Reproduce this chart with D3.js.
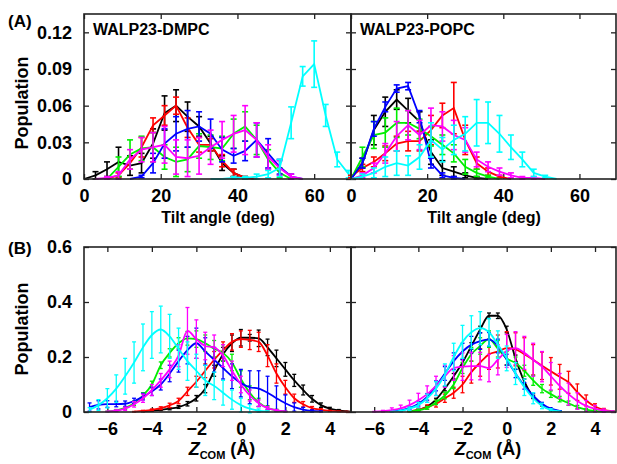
<!DOCTYPE html>
<html>
<head>
<meta charset="utf-8">
<script src="https://cdn.jsdelivr.net/npm/d3@7"></script>
<style>
  body { margin: 0; background: #fff; }
  svg text { font-family: 'Liberation Sans', Arial, sans-serif; font-weight: bold; fill: #000; }
</style>
</head>
<body>
<div id="main"></div>
<script>
// bins
const tiltBins = [0, 3, 6, 9, 12, 15, 18, 21, 24, 27, 30, 33, 36, 39, 42, 45, 48, 51, 54, 57, 60, 63, 66, 69];
const zBins = [-6.8, -6.4, -6.0, -5.6, -5.2, -4.8, -4.4, -4.0, -3.6, -3.2, -2.8, -2.4, -2.0, -1.6, -1.2,
               -0.8, -0.4, 0.0, 0.4, 0.8, 1.2, 1.6, 2.0, 2.4, 2.8, 3.2, 3.6, 4.0, 4.4, 4.8];

const colors = { black: '#000000', red: '#ff0000', green: '#00ee00', blue: '#0000ff', magenta: '#ff00ff', cyan: '#00ffff' };
const seriesOrder = ['black', 'red', 'green', 'blue', 'magenta', 'cyan'];

const tiltTicks = [0, 20, 40, 60];
const tiltPopTicks = [0, 0.03, 0.06, 0.09, 0.12];
const zTicks = [-6, -4, -2, 0, 2, 4];
const zPopTicks = [0, 0.2, 0.4, 0.6];

// from = index of first bin, y = population, e = error bar half height
const tiltDMPC = {
  black:   { from: 0, y: [0, 0.003, 0.008, 0.014, 0.011, 0.013, 0.029, 0.054, 0.060, 0.051, 0.043, 0.029, 0.013, 0.005, 0.001, 0],
                      e: [0, 0.003, 0.006, 0.012, 0.008, 0.008, 0.012, 0.014, 0.013, 0.012, 0.008, 0.006, 0.006, 0.003, 0.001, 0] },
  red:     { from: 2, y: [0, 0.003, 0.013, 0.026, 0.044, 0.052, 0.060, 0.042, 0.028, 0.028, 0.015, 0.005, 0.001, 0],
                      e: [0, 0.002, 0.005, 0.008, 0.006, 0.008, 0.007, 0.008, 0.006, 0.005, 0.005, 0.003, 0.001, 0] },
  green:   { from: 2, y: [0, 0.010, 0.020, 0.025, 0.026, 0.018, 0.014, 0.016, 0.027, 0.026, 0.025, 0.037, 0.043, 0.032, 0.016, 0.005, 0],
                      e: [0, 0.008, 0.012, 0.010, 0.012, 0.010, 0.012, 0.010, 0.010, 0.010, 0.010, 0.012, 0.012, 0.012, 0.008, 0.004, 0] },
  blue:    { from: 4, y: [0, 0.002, 0.013, 0.029, 0.037, 0.041, 0.043, 0.037, 0.024, 0.019, 0.023, 0.032, 0.021, 0.010, 0.002, 0],
                      e: [0, 0.001, 0.008, 0.012, 0.014, 0.015, 0.012, 0.012, 0.010, 0.006, 0.008, 0.014, 0.012, 0.006, 0.002, 0] },
  magenta: { from: 1, y: [0, 0.001, 0.003, 0.016, 0.024, 0.026, 0.028, 0.018, 0.017, 0.019, 0.026, 0.032, 0.037, 0.040, 0.032, 0.018, 0.009, 0.002, 0],
                      e: [0, 0.001, 0.003, 0.008, 0.010, 0.012, 0.015, 0.014, 0.015, 0.015, 0.014, 0.015, 0.015, 0.020, 0.014, 0.010, 0.006, 0.002, 0] },
  cyan:    { from: 11, y: [0, 0, 0.001, 0.001, 0.002, 0.004, 0.009, 0.046, 0.084, 0.094, 0.052, 0.016, 0.004],
                       e: [0, 0, 0.001, 0.001, 0.002, 0.003, 0.007, 0.013, 0.008, 0.019, 0.009, 0.006, 0.003] }
};

const tiltPOPC = {
  black:   { from: 0, y: [0, 0.013, 0.040, 0.055, 0.065, 0.056, 0.047, 0.022, 0.009, 0.006, 0.003, 0.001, 0],
                      e: [0, 0.004, 0.012, 0.012, 0.008, 0.010, 0.008, 0.010, 0.006, 0.004, 0.002, 0.001, 0] },
  red:     { from: 0, y: [0.002, 0.009, 0.014, 0.021, 0.029, 0.031, 0.031, 0.040, 0.052, 0.058, 0.032, 0.013, 0.006, 0.002, 0],
                      e: [0.001, 0.003, 0.004, 0.006, 0.006, 0.008, 0.008, 0.012, 0.010, 0.021, 0.012, 0.005, 0.003, 0.001, 0] },
  green:   { from: 0, y: [0, 0.018, 0.036, 0.038, 0.046, 0.046, 0.041, 0.035, 0.028, 0.021, 0.010, 0.005, 0.002, 0],
                      e: [0, 0.008, 0.011, 0.012, 0.012, 0.010, 0.008, 0.008, 0.008, 0.007, 0.006, 0.003, 0.001, 0] },
  blue:    { from: 0, y: [0, 0.013, 0.041, 0.059, 0.074, 0.076, 0.051, 0.013, 0.003, 0.001, 0],
                      e: [0, 0.004, 0.006, 0.004, 0.003, 0.003, 0.005, 0.004, 0.002, 0.001, 0] },
  magenta: { from: 0, y: [0, 0.003, 0.009, 0.021, 0.035, 0.044, 0.036, 0.044, 0.043, 0.036, 0.032, 0.016, 0.010, 0.006, 0.003, 0.001, 0.001, 0],
                      e: [0, 0.002, 0.004, 0.008, 0.012, 0.012, 0.012, 0.014, 0.012, 0.012, 0.010, 0.006, 0.004, 0.003, 0.002, 0.001, 0.001, 0] },
  cyan:    { from: 0, y: [0, 0.002, 0.005, 0.010, 0.013, 0.011, 0.018, 0.032, 0.024, 0.032, 0.037, 0.046, 0.046, 0.037, 0.026, 0.016, 0.005, 0.002, 0],
                      e: [0, 0.002, 0.004, 0.008, 0.010, 0.008, 0.010, 0.014, 0.010, 0.012, 0.014, 0.019, 0.017, 0.015, 0.010, 0.006, 0.003, 0.001, 0] }
};

const zDMPC = {
  black:   { from: 6, y: [0.002, 0.005, 0.008, 0.012, 0.018, 0.030, 0.050, 0.085, 0.150, 0.210, 0.250, 0.270, 0.270, 0.268, 0.235, 0.195, 0.155, 0.115, 0.080, 0.048, 0.025, 0.012, 0.006, 0.002],
                      e: [0.001, 0.002, 0.003, 0.004, 0.005, 0.008, 0.010, 0.015, 0.020, 0.025, 0.030, 0.030, 0.012, 0.030, 0.030, 0.030, 0.025, 0.022, 0.018, 0.012, 0.008, 0.005, 0.003, 0.001] },
  red:     { from: 5, y: [0.001, 0.004, 0.008, 0.014, 0.024, 0.040, 0.075, 0.110, 0.150, 0.190, 0.225, 0.255, 0.265, 0.262, 0.255, 0.205, 0.140, 0.090, 0.050, 0.028, 0.014, 0.008, 0.004, 0.002, 0.001],
                      e: [0.001, 0.002, 0.003, 0.005, 0.008, 0.010, 0.015, 0.020, 0.025, 0.030, 0.030, 0.030, 0.030, 0.035, 0.035, 0.040, 0.035, 0.025, 0.015, 0.010, 0.006, 0.004, 0.002, 0.001, 0.001] },
  green:   { from: 2, y: [0.002, 0.006, 0.015, 0.032, 0.060, 0.100, 0.170, 0.215, 0.250, 0.268, 0.265, 0.250, 0.230, 0.215, 0.180, 0.120, 0.070, 0.035, 0.015, 0.006, 0.002],
                      e: [0.001, 0.003, 0.005, 0.008, 0.010, 0.012, 0.012, 0.015, 0.020, 0.025, 0.030, 0.030, 0.030, 0.030, 0.030, 0.030, 0.025, 0.015, 0.008, 0.004, 0.001] },
  blue:    { from: 0, y: [0.018, 0.026, 0.029, 0.029, 0.030, 0.040, 0.056, 0.075, 0.100, 0.140, 0.185, 0.225, 0.250, 0.220, 0.190, 0.160, 0.130, 0.105, 0.090, 0.085, 0.070, 0.050, 0.032, 0.018, 0.009, 0.004, 0.002],
                      e: [0.015, 0.015, 0.012, 0.010, 0.010, 0.010, 0.012, 0.015, 0.020, 0.030, 0.040, 0.050, 0.055, 0.050, 0.045, 0.040, 0.045, 0.050, 0.060, 0.065, 0.060, 0.045, 0.030, 0.015, 0.008, 0.004, 0.002] },
  magenta: { from: 2, y: [0.002, 0.005, 0.012, 0.028, 0.050, 0.080, 0.115, 0.155, 0.205, 0.295, 0.265, 0.240, 0.235, 0.205, 0.150, 0.100, 0.060, 0.032, 0.014, 0.006, 0.002],
                      e: [0.001, 0.003, 0.006, 0.010, 0.015, 0.020, 0.025, 0.030, 0.040, 0.085, 0.070, 0.050, 0.045, 0.040, 0.035, 0.030, 0.020, 0.012, 0.006, 0.003, 0.001] },
  cyan:    { from: 0, y: [0.008, 0.025, 0.050, 0.085, 0.130, 0.180, 0.235, 0.280, 0.300, 0.275, 0.230, 0.185, 0.150, 0.115, 0.095, 0.070, 0.045, 0.025, 0.012, 0.005, 0.002],
                      e: [0.008, 0.020, 0.035, 0.050, 0.065, 0.075, 0.085, 0.085, 0.085, 0.080, 0.075, 0.070, 0.060, 0.055, 0.050, 0.045, 0.035, 0.025, 0.015, 0.006, 0.002] }
};

const zPOPC = {
  black:   { from: 6, y: [0.003, 0.008, 0.020, 0.045, 0.085, 0.130, 0.180, 0.240, 0.300, 0.350, 0.350, 0.300, 0.195, 0.110, 0.055, 0.025, 0.009, 0.003],
                      e: [0.001, 0.002, 0.003, 0.005, 0.008, 0.010, 0.012, 0.012, 0.012, 0.010, 0.010, 0.012, 0.012, 0.010, 0.006, 0.003, 0.002, 0.001] },
  red:     { from: 6, y: [0.002, 0.008, 0.018, 0.030, 0.050, 0.070, 0.100, 0.145, 0.180, 0.210, 0.220, 0.232, 0.228, 0.210, 0.190, 0.168, 0.148, 0.128, 0.108, 0.072, 0.042, 0.020, 0.008, 0.003],
                      e: [0.001, 0.004, 0.008, 0.012, 0.015, 0.020, 0.030, 0.040, 0.050, 0.055, 0.060, 0.060, 0.060, 0.060, 0.055, 0.050, 0.050, 0.045, 0.040, 0.030, 0.020, 0.010, 0.005, 0.002] },
  green:   { from: 6, y: [0.002, 0.006, 0.015, 0.035, 0.060, 0.100, 0.160, 0.210, 0.240, 0.265, 0.230, 0.195, 0.178, 0.150, 0.115, 0.085, 0.065, 0.047, 0.032, 0.018, 0.009, 0.004, 0.002, 0.002],
                      e: [0.001, 0.003, 0.005, 0.008, 0.012, 0.015, 0.020, 0.025, 0.030, 0.030, 0.030, 0.025, 0.022, 0.020, 0.018, 0.015, 0.012, 0.010, 0.008, 0.006, 0.004, 0.002, 0.001, 0.001] },
  blue:    { from: 4, y: [0.002, 0.006, 0.014, 0.030, 0.055, 0.095, 0.140, 0.185, 0.220, 0.245, 0.258, 0.264, 0.240, 0.190, 0.140, 0.095, 0.060, 0.030, 0.012, 0.004],
                      e: [0.001, 0.003, 0.005, 0.008, 0.012, 0.018, 0.025, 0.030, 0.030, 0.030, 0.030, 0.025, 0.025, 0.020, 0.015, 0.012, 0.008, 0.005, 0.003, 0.001] },
  magenta: { from: 2, y: [0.001, 0.003, 0.007, 0.013, 0.025, 0.043, 0.065, 0.095, 0.130, 0.160, 0.165, 0.167, 0.167, 0.160, 0.190, 0.222, 0.232, 0.215, 0.190, 0.165, 0.130, 0.095, 0.065, 0.040, 0.022, 0.012, 0.005, 0.002],
                      e: [0.001, 0.003, 0.008, 0.012, 0.018, 0.025, 0.030, 0.035, 0.040, 0.045, 0.050, 0.050, 0.050, 0.050, 0.055, 0.060, 0.060, 0.060, 0.060, 0.055, 0.050, 0.045, 0.040, 0.030, 0.020, 0.012, 0.006, 0.002] },
  cyan:    { from: 4, y: [0.001, 0.004, 0.012, 0.025, 0.050, 0.085, 0.135, 0.200, 0.255, 0.290, 0.305, 0.290, 0.245, 0.195, 0.140, 0.090, 0.050, 0.022, 0.008, 0.002],
                      e: [0.001, 0.003, 0.006, 0.010, 0.015, 0.025, 0.040, 0.050, 0.060, 0.060, 0.060, 0.050, 0.050, 0.045, 0.040, 0.030, 0.020, 0.010, 0.004, 0.001] }
};

const width = 617;
const height = 464;

const svg = d3.select('#main')
  .append('svg')
    .attr('width', width)
    .attr('height', height);

const toPoints = (s, bins) => s.y.map((v, i) => ({ x: bins[s.from + i], y: v, e: s.e[i] }));

const drawPanel = (p) => {
  const xScale = d3.scaleLinear().domain(p.xDomain).range([p.left, p.right]);
  const yScale = d3.scaleLinear().domain(p.yDomain).range([p.bottom, p.top]);
  const g = svg.append('g');

  const style = axG => {
    axG.attr('font-size', null).attr('font-family', null);
    axG.select('.domain').remove();
    axG.selectAll('line').attr('stroke', '#222').attr('stroke-width', 1.3);
    axG.selectAll('text').style('font-size', '18px');
  };

  g.append('g').attr('transform', `translate(0,${p.bottom})`)
    .call(d3.axisBottom(xScale).tickValues(p.xTicks).tickSizeInner(-5).tickSizeOuter(0).tickPadding(10))
    .call(style);
  g.append('g').attr('transform', `translate(0,${p.top})`)
    .call(d3.axisTop(xScale).tickValues(p.xTicks).tickSizeInner(-5).tickSizeOuter(0).tickFormat(''))
    .call(style);
  g.append('g').attr('transform', `translate(${p.left},0)`)
    .call(d3.axisLeft(yScale).tickValues(p.yTicks).tickSizeInner(-5).tickSizeOuter(0).tickPadding(12)
      .tickFormat(p.showY ? (d => d === 0 ? '0' : d3.format(p.yFmt)(d)) : ''))
    .call(style);
  g.append('g').attr('transform', `translate(${p.right},0)`)
    .call(d3.axisRight(yScale).tickValues(p.yTicks).tickSizeInner(-5).tickSizeOuter(0).tickFormat(''))
    .call(style);

  const line = d3.line()
    .defined(d => d.y != null)
    .x(d => xScale(d.x))
    .y(d => yScale(d.y))
    .curve(p.curve);

  seriesOrder.forEach(key => {
    const pts = toPoints(p.data[key], p.bins);
    const col = colors[key];
    const eb = g.append('g').attr('stroke', col).attr('stroke-width', p.ebWidth).attr('fill', 'none');
    pts.filter(d => d.e > 0).forEach(d => {
      const cx = xScale(d.x);
      const y1 = yScale(d.y - d.e);
      const y2 = yScale(d.y + d.e);
      eb.append('line').attr('x1', cx).attr('x2', cx).attr('y1', y1).attr('y2', y2);
      eb.append('line').attr('x1', cx - p.cap).attr('x2', cx + p.cap).attr('y1', y1).attr('y2', y1);
      eb.append('line').attr('x1', cx - p.cap).attr('x2', cx + p.cap).attr('y1', y2).attr('y2', y2);
    });
    g.append('path')
      .attr('d', line(pts))
      .attr('fill', 'none')
      .attr('stroke', col)
      .attr('stroke-width', 1.8);
  });

  g.append('rect')
    .attr('x', p.left).attr('y', p.top)
    .attr('width', p.right - p.left).attr('height', p.bottom - p.top)
    .attr('fill', 'none').attr('stroke', '#222').attr('stroke-width', 1.6);

  if (p.label) {
    g.append('text').attr('x', p.left + 9).attr('y', p.top + 21)
      .style('font-size', '16px').text(p.label);
  }
  return { xScale, yScale };
};

const tiltDomain = [0, 69.6];
const zDomain = [-7.05, 4.95];

drawPanel({ left: 84, right: 351, top: 14, bottom: 179, xDomain: tiltDomain, yDomain: [0, 0.135],
  xTicks: tiltTicks, yTicks: tiltPopTicks, yFmt: '.2f', showY: true, data: tiltDMPC, bins: tiltBins,
  curve: d3.curveLinear, cap: 3, ebWidth: 1.6, label: 'WALP23-DMPC' });
drawPanel({ left: 351, right: 616, top: 14, bottom: 179, xDomain: tiltDomain, yDomain: [0, 0.135],
  xTicks: tiltTicks, yTicks: tiltPopTicks, yFmt: '.2f', showY: false, data: tiltPOPC, bins: tiltBins,
  curve: d3.curveLinear, cap: 3, ebWidth: 1.6, label: 'WALP23-POPC' });
drawPanel({ left: 84, right: 351, top: 247, bottom: 412, xDomain: zDomain, yDomain: [0, 0.6],
  xTicks: zTicks, yTicks: zPopTicks, yFmt: '.1f', showY: true, data: zDMPC, bins: zBins,
  curve: d3.curveMonotoneX, cap: 2, ebWidth: 1.3 });
drawPanel({ left: 351, right: 616, top: 247, bottom: 412, xDomain: zDomain, yDomain: [0, 0.6],
  xTicks: zTicks, yTicks: zPopTicks, yFmt: '.1f', showY: false, data: zPOPC, bins: zBins,
  curve: d3.curveMonotoneX, cap: 2, ebWidth: 1.3 });

// panel letters and axis titles
svg.append('text').attr('x', 8).attr('y', 27).style('font-size', '17px').text('(A)');
svg.append('text').attr('x', 8).attr('y', 254).style('font-size', '17px').text('(B)');

[103, 329].forEach(cy => {
  svg.append('text')
    .attr('transform', `translate(28,${cy}) rotate(-90)`)
    .attr('text-anchor', 'middle')
    .style('font-size', '18px')
    .text('Population');
});

[218, 484].forEach(cx => {
  svg.append('text')
    .attr('x', cx).attr('y', 223)
    .attr('text-anchor', 'middle')
    .style('font-size', '16px')
    .text('Tilt angle (deg)');

  const t = svg.append('text')
    .attr('x', cx + 4).attr('y', 455)
    .attr('text-anchor', 'middle')
    .style('font-size', '18px');
  t.append('tspan').style('font-style', 'italic').text('Z');
  t.append('tspan').attr('dy', 4).style('font-size', '11px').text('COM');
  t.append('tspan').attr('dy', -4).text(' (Å)');
});
</script>
</body>
</html>
